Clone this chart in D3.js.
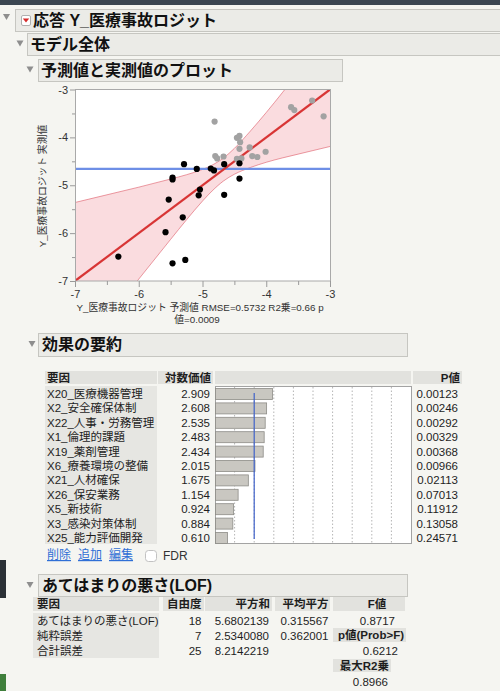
<!DOCTYPE html>
<html>
<head>
<meta charset="utf-8">
<script src="https://cdn.jsdelivr.net/npm/d3@7"></script>
<style>
  html, body { margin: 0; padding: 0; background: #f5f5f1; }
  svg { display: block; font-family: "Liberation Sans", "Noto Sans CJK JP", sans-serif; }
</style>
</head>
<body>
<svg id="report" width="500" height="691"></svg>
<script>
// ---- Actual by predicted plot data ----
const usedPred   = [-6.32, -5.47, -5.27, -5.58, -5.31, -5.53, -5.47, -5.47, -5.29, -5.09, -5.06, -5.04, -4.87, -4.82, -4.66, -4.66, -4.42, -4.42];
const usedActual = [-6.49, -6.63, -6.56, -5.98, -5.67, -5.30, -4.84, -4.88, -4.56, -4.66, -5.21, -5.09, -4.65, -4.69, -4.56, -5.20, -4.54, -4.86];
const otherPred   = [-4.81, -4.80, -4.77, -4.67, -4.46, -4.42, -4.41, -4.42, -4.46, -4.39, -4.26, -4.22, -4.14, -4.01, -3.61, -3.56, -3.28, -3.10];
const otherActual = [-3.67, -4.39, -4.44, -4.40, -4.01, -3.97, -4.10, -4.24, -4.45, -4.44, -4.21, -4.39, -4.41, -4.30, -3.37, -3.43, -3.23, -3.56];
const fitX = [-7, -3];
const fitY = [-7, -3];
const meanActual = -4.66;
const bandX     = [-7, -6.5, -6, -5.5, -5.25, -5, -4.85, -4.67, -4.5, -4.25, -4, -3.75, -3.5, -3];
const bandUpper = [-5.36, -5.20, -5.04, -4.87, -4.78, -4.67, -4.58, -4.43, -4.23, -3.87, -3.48, -3.07, -2.65, -1.81];
const bandLower = [-8.64, -7.80, -6.96, -6.13, -5.72, -5.33, -5.12, -4.91, -4.77, -4.63, -4.52, -4.43, -4.35, -4.19];
const axisTicks = [-7, -6, -5, -4, -3];
const axisMinor = [-6.5, -5.5, -4.5, -3.5];

// ---- Effect summary data ----
const effectTerms = ["X20_医療機器管理", "X2_安全確保体制", "X22_人事・労務管理", "X1_倫理的課題", "X19_薬剤管理",
  "X6_療養環境の整備", "X21_人材確保", "X26_保安業務", "X5_新技術", "X3_感染対策体制", "X25_能力評価開発"];
const logWorth = [2.909, 2.608, 2.535, 2.483, 2.434, 2.015, 1.675, 1.154, 0.924, 0.884, 0.610];
const pValues = ["0.00123", "0.00246", "0.00292", "0.00329", "0.00368", "0.00966", "0.02113", "0.07013", "0.11912", "0.13058", "0.24571"];
const logWorthRef = 2;
const logWorthGrid = [1, 2, 3, 4, 5, 6, 7, 8, 9];

// ---- Lack of fit data ----
const lofSources = ["あてはまりの悪さ(LOF)", "純粋誤差", "合計誤差"];
const lofDF = ["18", "7", "25"];
const lofSS = ["5.6802139", "2.5340080", "8.2142219"];
const lofMS = ["0.315567", "0.362001", ""];
const lofF = "0.8717";
const lofProb = "0.6212";
const lofMaxR2 = "0.8966";

const svg = d3.select("#report");
const TXT = "#1e1e1e";

svg.append("rect").attr("width", 500).attr("height", 691).attr("fill", "#f5f5f1");
// window chrome
svg.append("rect").attr("x", 0).attr("y", 0).attr("width", 500).attr("height", 5).attr("fill", "#3b4651");
svg.append("rect").attr("x", 0).attr("y", 560).attr("width", 6).attr("height", 38).attr("fill", "#2b3036");
svg.append("rect").attr("x", 0).attr("y", 674).attr("width", 6).attr("height", 17).attr("fill", "#3f7f3c");

function triangle(cx, cy) {
  svg.append("path")
    .attr("d", `M${cx - 3.5},${cy - 3} L${cx + 3.5},${cy - 3} L${cx},${cy + 3} Z`)
    .attr("fill", "#8e8e8e");
}
function header(x0, y0, x1, y1, label, tx, base) {
  svg.append("rect").attr("x", x0 + 0.5).attr("y", y0 + 0.5).attr("width", x1 - x0).attr("height", y1 - y0)
    .attr("fill", "#ebebe7").attr("stroke", "#c6c6c1");
  svg.append("text").attr("x", tx).attr("y", base).text(label)
    .attr("font-size", 16).attr("font-weight", "bold").attr("fill", "#111");
}
function cell(x0, y0, x1, y1, fill) {
  svg.append("rect").attr("x", x0).attr("y", y0).attr("width", x1 - x0).attr("height", y1 - y0).attr("fill", fill || "#e2e2de");
}
function txt(x, y, s, anchor, opts) {
  const t = svg.append("text").attr("x", x).attr("y", y).text(s)
    .attr("font-size", (opts && opts.size) || 11.5)
    .attr("text-anchor", anchor || "start")
    .attr("fill", (opts && opts.fill) || TXT);
  if (opts && opts.bold) t.attr("font-weight", "bold");
  return t;
}

// ---- Section headers ----
triangle(6.5, 17);
header(15, 9, 506, 31, "応答 Y_医療事故ロジット", 33, 26);
svg.append("rect").attr("x", 21.5).attr("y", 15.5).attr("width", 9).attr("height", 10).attr("rx", 1.5)
  .attr("fill", "#fff").attr("stroke", "#b0b0b0");
svg.append("path").attr("d", "M22.8,18.6 L29.2,18.6 L26,22.6 Z").attr("fill", "#d62b2b");

triangle(20, 43.5);
header(27, 33, 506, 55, "モデル全体", 30, 50);
triangle(30, 69.5);
header(38, 59, 342, 81, "予測値と実測値のプロット", 41, 76);

// ---- Actual by predicted plot ----
const P = { l: 75, r: 330, t: 89.5, b: 281 };
const x = d3.scaleLinear().domain([-7, -3]).range([P.l, P.r]);
const y = d3.scaleLinear().domain([-7, -3]).range([P.b, P.t]);

svg.append("rect").attr("x", P.l).attr("y", P.t).attr("width", P.r - P.l).attr("height", P.b - P.t).attr("fill", "#fff");
svg.append("clipPath").attr("id", "plotClip")
  .append("rect").attr("x", P.l).attr("y", P.t).attr("width", P.r - P.l).attr("height", P.b - P.t);
const plot = svg.append("g").attr("clip-path", "url(#plotClip)");

const bandData = bandX.map((v, i) => ({ x: v, lo: bandLower[i], hi: bandUpper[i] }));
plot.append("path").datum(bandData)
  .attr("d", d3.area().x(d => x(d.x)).y0(d => y(d.lo)).y1(d => y(d.hi)).curve(d3.curveMonotoneX))
  .attr("fill", "rgba(236,120,132,0.26)");
["hi", "lo"].forEach(k => {
  plot.append("path").datum(bandData)
    .attr("d", d3.line().x(d => x(d.x)).y(d => y(d[k])).curve(d3.curveMonotoneX))
    .attr("fill", "none").attr("stroke", "rgba(222,90,104,0.6)").attr("stroke-width", 1);
});
plot.append("line").attr("x1", P.l).attr("x2", P.r).attr("y1", y(meanActual)).attr("y2", y(meanActual))
  .attr("stroke", "#6e8fe6").attr("stroke-width", 2.2);
plot.append("line").attr("x1", x(fitX[0])).attr("y1", y(fitY[0])).attr("x2", x(fitX[1])).attr("y2", y(fitY[1]))
  .attr("stroke", "#d83535").attr("stroke-width", 2.2);

plot.selectAll("circle.other").data(otherPred).enter().append("circle").attr("class", "other")
  .attr("cx", d => x(d)).attr("cy", (d, i) => y(otherActual[i])).attr("r", 3.1).attr("fill", "#a2a2a2");
plot.selectAll("circle.used").data(usedPred).enter().append("circle").attr("class", "used")
  .attr("cx", d => x(d)).attr("cy", (d, i) => y(usedActual[i])).attr("r", 3.1).attr("fill", "#000");

svg.append("rect").attr("x", P.l + 0.5).attr("y", P.t).attr("width", P.r - P.l).attr("height", P.b - P.t)
  .attr("fill", "none").attr("stroke", "#a9a9a9");

function styleAxis(g) {
  g.select(".domain").remove();
  g.selectAll(".tick line").attr("stroke", "#9a9a9a");
  g.selectAll(".tick text").attr("fill", "#333").attr("font-size", 11)
    .attr("font-family", "'Liberation Sans', sans-serif");
}
svg.append("g").attr("transform", `translate(${P.l},0)`)
  .call(d3.axisLeft(y).tickValues(axisTicks).tickSize(5).tickPadding(2).tickFormat(d => String(d))).call(styleAxis);
svg.append("g").attr("transform", `translate(${P.l},0)`)
  .call(d3.axisLeft(y).tickValues(axisMinor).tickSize(3).tickFormat("")).call(styleAxis);
svg.append("g").attr("transform", `translate(0,${P.b})`)
  .call(d3.axisBottom(x).tickValues(axisTicks).tickSize(6).tickPadding(3).tickFormat(d => String(d))).call(styleAxis);
svg.append("g").attr("transform", `translate(0,${P.b})`)
  .call(d3.axisBottom(x).tickValues(axisMinor).tickSize(4).tickFormat("")).call(styleAxis);

svg.append("text").attr("transform", "translate(46,186) rotate(-90)").attr("text-anchor", "middle")
  .attr("font-size", 9.8).attr("fill", "#333").text("Y_医療事故ロジット 実測値");
txt(200, 310.5, "Y_医療事故ロジット 予測値 RMSE=0.5732 R2乗=0.66 p", "middle", { size: 9.8, fill: "#333" });
txt(197, 323, "値=0.0009", "middle", { size: 9.8, fill: "#333" });

// ---- Effect summary ----
triangle(32, 344);
header(38, 333, 407, 356, "効果の要約", 42, 350);

const rowY = i => 394 + i * 14.4;
const barX = d3.scaleLinear().domain([0, 10]).range([215, 411]);

cell(45, 371, 157, 384);
cell(158, 371, 213, 384);
cell(215, 371, 411, 384);
cell(413, 371, 462, 384);
txt(47, 382, "要因", "start", { bold: true });
txt(211, 382, "対数価値", "end", { bold: true });
txt(460, 382, "P値", "end", { bold: true });

cell(45, 386, 157, 544, "#e6e6e2");
svg.append("rect").attr("x", 215.5).attr("y", 386.5).attr("width", 196).attr("height", 157)
  .attr("fill", "#fff").attr("stroke", "#a3a3a3");
svg.selectAll("line.grid").data(logWorthGrid).enter().append("line").attr("class", "grid")
  .attr("x1", d => barX(d)).attr("x2", d => barX(d)).attr("y1", 387).attr("y2", 543)
  .attr("stroke", "#b5b5b5").attr("stroke-dasharray", "1.5,2");
svg.selectAll("rect.lw").data(logWorth).enter().append("rect").attr("class", "lw")
  .attr("x", barX(0) + 0.5).attr("y", (d, i) => rowY(i) - 5.5)
  .attr("width", d => barX(d) - barX(0)).attr("height", 11)
  .attr("fill", "#c9c7c1").attr("stroke", "#8d8c87").attr("stroke-width", 0.8);
svg.append("line").attr("x1", barX(logWorthRef)).attr("x2", barX(logWorthRef))
  .attr("y1", rowY(0) - 1).attr("y2", rowY(logWorth.length - 1) + 1)
  .attr("stroke", "#3f61c9").attr("stroke-width", 1.2);

effectTerms.forEach((t, i) => {
  txt(47, rowY(i) + 4, t, "start");
  txt(210, rowY(i) + 4, logWorth[i].toFixed(3), "end");
  txt(458, rowY(i) + 4, pValues[i], "end");
});

[["削除", 47], ["追加", 78], ["編集", 109]].forEach(([s, lx]) => {
  txt(lx, 559, s, "start", { size: 12, fill: "#2f6fd6" }).attr("text-decoration", "underline");
});
svg.append("rect").attr("x", 145.5).attr("y", 550.5).attr("width", 11).attr("height", 11).attr("rx", 3)
  .attr("fill", "#fff").attr("stroke", "#c2c2c2");
txt(163, 559.5, "FDR", "start", { size: 12, fill: "#333" });

// ---- Lack of fit ----
triangle(30, 585);
header(38, 574, 407, 596, "あてはまりの悪さ(LOF)", 42, 591);

cell(33, 597, 159, 611);
cell(163, 597, 204, 611);
cell(205, 597, 272, 611);
cell(275, 597, 330, 611);
cell(333, 597, 405, 611);
txt(37, 608, "要因", "start", { bold: true });
txt(201.5, 608, "自由度", "end", { bold: true });
txt(270, 608, "平方和", "end", { bold: true });
txt(328.5, 608, "平均平方", "end", { bold: true });
txt(377, 608, "F値", "middle", { bold: true });

cell(33, 613, 159, 658, "#e6e6e2");
lofSources.forEach((s, i) => {
  const by = 625 + i * 15.2;
  txt(37, by, s, "start");
  txt(201.5, by, lofDF[i], "end");
  txt(269, by, lofSS[i], "end");
  if (lofMS[i]) txt(328.5, by, lofMS[i], "end");
});
txt(395, 625, lofF, "end");
cell(333, 628, 406, 642);
txt(404, 639, "p値(Prob>F)", "end", { bold: true });
txt(398, 655.4, lofProb, "end");
cell(333, 659, 391, 672);
txt(389, 669.5, "最大R2乗", "end", { bold: true });
txt(388, 686, lofMaxR2, "end");
</script>
</body>
</html>
